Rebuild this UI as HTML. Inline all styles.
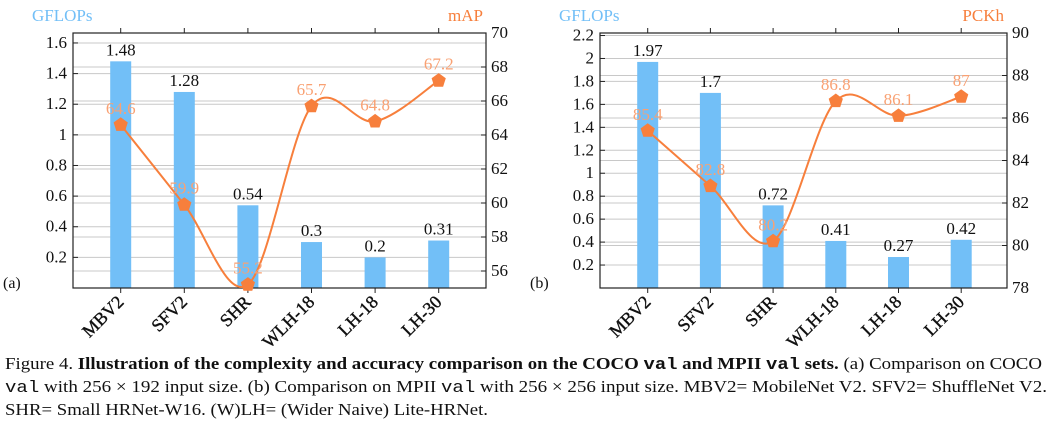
<!DOCTYPE html>
<html><head><meta charset="utf-8"><style>
html,body{margin:0;padding:0;background:#fff;}
svg text{font-family:"Liberation Serif",serif;}
</style></head><body>
<svg id="fig" width="1050" height="422" viewBox="0 0 1050 422" xmlns="http://www.w3.org/2000/svg">
<g id="chartA"></g>
<g id="chartB"></g>
<g font-size="17" fill="#111" font-family="Liberation Serif, serif">
<text x="5" y="369" font-family="Liberation Serif, serif" textLength="1037" lengthAdjust="spacingAndGlyphs">Figure 4. <tspan font-weight="bold">Illustration of the complexity and accuracy comparison on the COCO <tspan font-family="Liberation Mono, monospace">val</tspan> and MPII <tspan font-family="Liberation Mono, monospace">val</tspan> sets.</tspan> (a) Comparison on COCO</text>
<text x="5" y="392" font-family="Liberation Serif, serif" textLength="1042" lengthAdjust="spacingAndGlyphs"><tspan font-family="Liberation Mono, monospace">val</tspan> with 256 × 192 input size. (b) Comparison on MPII <tspan font-family="Liberation Mono, monospace">val</tspan> with 256 × 256 input size. MBV2= MobileNet V2. SFV2= ShuffleNet V2.</text>
<text x="5" y="415" font-family="Liberation Serif, serif" textLength="483" lengthAdjust="spacingAndGlyphs">SHR= Small HRNet-W16. (W)LH= (Wider Naive) Lite-HRNet.</text>
</g>
</svg>
<script>
const categories = ["MBV2","SFV2","SHR","WLH-18","LH-18","LH-30"];
const gflopsA = [1.48,1.28,0.54,0.3,0.2,0.31];
const mapA = [64.6,59.9,55.2,65.7,64.8,67.2];
const gflopsB = [1.97,1.7,0.72,0.41,0.27,0.42];
const pckhB = [85.4,82.8,80.2,86.8,86.1,87];
const leftTicksA = [0.2,0.4,0.6,0.8,1,1.2,1.4,1.6];
const rightTicksA = [56,58,60,62,64,66,68,70];
const leftTicksB = [0.2,0.4,0.6,0.8,1,1.2,1.4,1.6,1.8,2,2.2];
const rightTicksB = [78,80,82,84,86,88,90];

const NS="http://www.w3.org/2000/svg";
function mk(parent,tag,attrs,txt){const e=document.createElementNS(NS,tag);for(const k in attrs)e.setAttribute(k,attrs[k]);if(txt!==undefined)e.textContent=txt;parent.appendChild(e);return e;}

function drawChart(g,o){
  const {x0,x1,y0,y1,lMin,lMax,rMin,rMax,cx0,dx,bars,line,lT,rT,rTitle,tag,fmtL}=o;
  const yL=v=>y1-(v-lMin)/(lMax-lMin)*(y1-y0);
  const yR=v=>y1-(v-rMin)/(rMax-rMin)*(y1-y0);
  const xC=i=>cx0+i*dx;
  lT.forEach(v=>{const l=mk(g,'line',{x1:x0,x2:x1,y1:yL(v),y2:yL(v),stroke:'#c8c8c8','stroke-width':1});
    
    });
  rT.forEach(v=>{const l=mk(g,'line',{x1:x0,x2:x1,y1:yR(v),y2:yR(v),stroke:'#c8c8c8','stroke-width':1});
    
    });
  bars.forEach((v,i)=>{
    const r=mk(g,'rect',{x:xC(i)-10.5,y:yL(v),width:21,height:y1-yL(v),fill:'#72bff7'});
    
    
    const t=mk(g,'text',{x:xC(i),y:yL(v)-6,'text-anchor':'middle','font-size':17,fill:'#111'},String(v));
    
    
  });
  const f=mk(g,'rect',{x:x0,y:y0,width:x1-x0,height:y1-y0,fill:'none',stroke:'#222','stroke-width':1.2});
  
  
  lT.forEach(v=>{
    mk(g,'line',{x1:x0,x2:x0+5,y1:yL(v),y2:yL(v),stroke:'#222'});
    const t=mk(g,'text',{x:x0-6,y:yL(v)+5,'text-anchor':'end','font-size':17,fill:'#111'},fmtL(v));
    
    
  });
  rT.forEach(v=>{
    mk(g,'line',{x1:x1-5,x2:x1,y1:yR(v),y2:yR(v),stroke:'#222'});
    const t=mk(g,'text',{x:x1+5,y:yR(v)+5,'text-anchor':'start','font-size':17,fill:'#111'},String(v));
    
    
  });
  categories.forEach((c,i)=>{
    mk(g,'line',{x1:xC(i),x2:xC(i),y1:y0-5,y2:y0,stroke:'#222'});
    mk(g,'line',{x1:xC(i),x2:xC(i),y1:y1,y2:y1+5,stroke:'#222'});
    const t=mk(g,'text',{x:0,y:0,'text-anchor':'end','font-size':18,fill:'#111',stroke:'#111','stroke-width':0.4,transform:`translate(${xC(i)+4},${y1+15}) rotate(-45)`},c);
    
    
  });
  const P=line.map((v,i)=>[xC(i),yR(v)]);
  let d=`M${P[0][0]},${P[0][1]}`;
  for(let i=0;i<P.length-1;i++){
    const p0=P[Math.max(0,i-1)],p1=P[i],p2=P[i+1],p3=P[Math.min(P.length-1,i+2)];
    const k=1/6;
    d+=` C${p1[0]+(p2[0]-p0[0])*k},${p1[1]+(p2[1]-p0[1])*k} ${p2[0]-(p3[0]-p1[0])*k},${p2[1]-(p3[1]-p1[1])*k} ${p2[0]},${p2[1]}`;
  }
  const pl=mk(g,'path',{d:d,fill:'none',stroke:'#f77f3c','stroke-width':2});
  
  
  P.forEach((p,i)=>{
    let pts=[];for(let j=0;j<5;j++){const a=-Math.PI/2+j*2*Math.PI/5;pts.push((p[0]+7.5*Math.cos(a)).toFixed(1)+','+(p[1]+7.5*Math.sin(a)).toFixed(1));}
    const m=mk(g,'polygon',{points:pts.join(' '),fill:'#f77f3c'});
    
    
    const t=mk(g,'text',{x:p[0],y:p[1]-11,'text-anchor':'middle','font-size':17,fill:'#f9a173'},String(line[i]));
    
    
  });
  const lt=mk(g,'text',{x:x0-41,y:21,'font-size':17,fill:'#72bff7'},'GFLOPs');
  
  
  const rt=mk(g,'text',{x:x1-3,y:21,'text-anchor':'end','font-size':17,fill:'#f77f3c'},rTitle);
  
  
  const tg=mk(g,'text',{x:x0-70,y:288,'font-size':16,fill:'#111'},tag);
  
  
}
const fmt=v=>String(v);
drawChart(document.getElementById('chartA'),{x0:73,x1:486,y0:33,y1:288,lMin:0,lMax:1.665,rMin:55,rMax:70,cx0:120.7,dx:63.6,bars:gflopsA,line:mapA,lT:leftTicksA,rT:rightTicksA,rTitle:'mAP',tag:'(a)',fmtL:fmt});
drawChart(document.getElementById('chartB'),{x0:600,x1:1007,y0:33,y1:288,lMin:0,lMax:2.222,rMin:78,rMax:90,cx0:647.7,dx:62.7,bars:gflopsB,line:pckhB,lT:leftTicksB,rT:rightTicksB,rTitle:'PCKh',tag:'(b)',fmtL:fmt});
</script>
</body></html>
